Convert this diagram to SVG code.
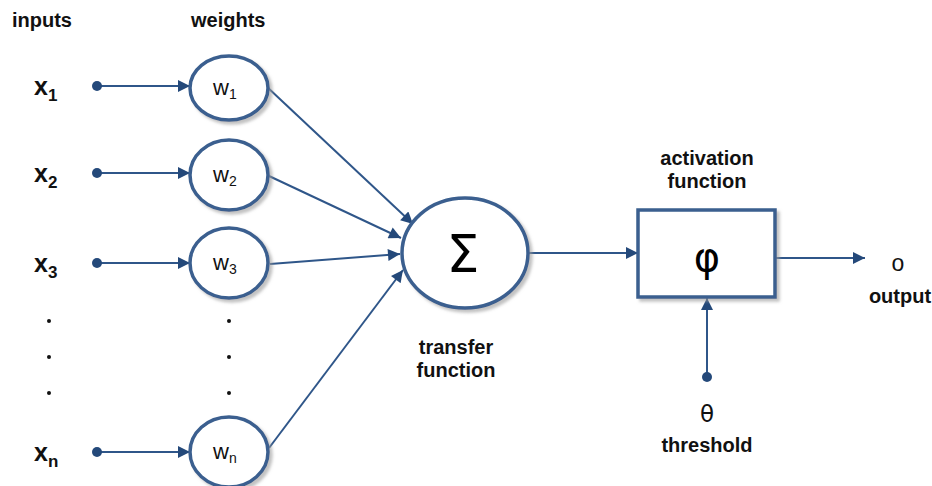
<svg xmlns="http://www.w3.org/2000/svg" width="932" height="486" viewBox="0 0 932 486">
<style>
.lbl{font-family:"Liberation Sans",Arial,sans-serif;font-weight:bold;font-size:20px;fill:#111;}
.x{font-family:"Liberation Sans",Arial,sans-serif;font-weight:bold;font-size:25px;fill:#111;}
.xs{font-family:"Liberation Sans",Arial,sans-serif;font-weight:bold;font-size:17px;fill:#111;}
.w{font-family:"Liberation Sans",Arial,sans-serif;font-size:22px;fill:#111;}
.ws{font-family:"Liberation Sans",Arial,sans-serif;font-size:14px;fill:#111;}
.node{fill:#fff;stroke:#3a5f8f;stroke-width:3.5;filter:url(#sh);}
.edge{stroke:#2f5689;stroke-width:2;fill:none;marker-end:url(#ah);}
.dot{fill:#24497a;}
.vd{fill:#111;}
</style>
<defs>
<marker id="ah" viewBox="0 0 10 10" refX="10" refY="5" markerWidth="13" markerHeight="12" markerUnits="userSpaceOnUse" orient="auto">
<path d="M0,0 L10,5 L0,10 z" fill="#24497a"/>
</marker>
<filter id="sh" x="-20%" y="-20%" width="150%" height="150%">
<feDropShadow dx="3" dy="3" stdDeviation="1.5" flood-color="#999" flood-opacity="0.6"/>
</filter>
</defs>
<rect width="932" height="486" fill="#fff"/>
<g id="headers">
<text class="lbl" x="12" y="27">inputs</text>
<text class="lbl" x="191" y="27">weights</text>
</g>
<g id="connectors">
<line class="edge" x1="97" y1="86" x2="190" y2="86"/>
<line class="edge" x1="97" y1="173" x2="190" y2="173"/>
<line class="edge" x1="97" y1="263" x2="190" y2="263"/>
<line class="edge" x1="97" y1="452" x2="190" y2="452"/>
<line class="edge" x1="266" y1="86" x2="413" y2="224"/>
<line class="edge" x1="269" y1="176" x2="401" y2="238"/>
<line class="edge" x1="270" y1="264" x2="400" y2="254"/>
<line class="edge" x1="269" y1="448" x2="403" y2="270"/>
<line class="edge" x1="528" y1="253" x2="638" y2="253"/>
<line class="edge" x1="775" y1="258" x2="865" y2="258"/>
<line class="edge" x1="707" y1="377" x2="707" y2="298"/>
</g>
<g id="inputs">
<circle class="dot" cx="97" cy="86" r="5"/>
<circle class="dot" cx="97" cy="173" r="5"/>
<circle class="dot" cx="97" cy="263" r="5"/>
<circle class="dot" cx="97" cy="452" r="5"/>
<circle class="dot" cx="707" cy="377" r="5"/>
<text class="x" x="34" y="95">x<tspan class="xs" dy="6">1</tspan></text>
<text class="x" x="34" y="182">x<tspan class="xs" dy="6">2</tspan></text>
<text class="x" x="34" y="272">x<tspan class="xs" dy="6">3</tspan></text>
<text class="x" x="34" y="461">x<tspan class="xs" dy="6">n</tspan></text>
<circle class="vd" cx="49" cy="321" r="2"/>
<circle class="vd" cx="49" cy="357" r="2"/>
<circle class="vd" cx="49" cy="393" r="2"/>
<circle class="vd" cx="229" cy="321" r="2"/>
<circle class="vd" cx="229" cy="357" r="2"/>
<circle class="vd" cx="229" cy="393" r="2"/>
</g>
<g id="w1"><ellipse class="node" cx="229" cy="88" rx="39" ry="32"/><text class="w" x="213" y="95">w<tspan class="ws" dy="4">1</tspan></text></g>
<g id="w2"><ellipse class="node" cx="229" cy="175" rx="39" ry="35"/><text class="w" x="213" y="182">w<tspan class="ws" dy="4">2</tspan></text></g>
<g id="w3"><ellipse class="node" cx="229" cy="263" rx="39" ry="35"/><text class="w" x="213" y="270">w<tspan class="ws" dy="4">3</tspan></text></g>
<g id="wn"><ellipse class="node" cx="229" cy="452" rx="39" ry="35"/><text class="w" x="213" y="459">w<tspan class="ws" dy="4">n</tspan></text></g>
<g id="sum">
<ellipse class="node" cx="465" cy="253" rx="63" ry="55"/>
<text x="463" y="272" text-anchor="middle" font-family="'DejaVu Sans',sans-serif" font-size="52" fill="#000">Σ</text>
<text class="lbl" x="456" y="354" text-anchor="middle">transfer</text>
<text class="lbl" x="456" y="377" text-anchor="middle">function</text>
</g>
<g id="activation">
<rect class="node" x="638" y="210" width="137" height="87"/>
<text x="707" y="271" text-anchor="middle" font-family="'DejaVu Sans',sans-serif" font-size="40" fill="#000">φ</text>
<text class="lbl" x="707" y="165" text-anchor="middle">activation</text>
<text class="lbl" x="707" y="188" text-anchor="middle">function</text>
</g>
<g id="output">
<text x="898" y="271" text-anchor="middle" font-family="'Liberation Sans',sans-serif" font-size="23" fill="#111">o</text>
<text class="lbl" x="900" y="303" text-anchor="middle">output</text>
</g>
<g id="threshold">
<text x="707" y="422" text-anchor="middle" font-family="'DejaVu Sans',sans-serif" font-size="23" fill="#111">θ</text>
<text class="lbl" x="707" y="452" text-anchor="middle">threshold</text>
</g>
</svg>
